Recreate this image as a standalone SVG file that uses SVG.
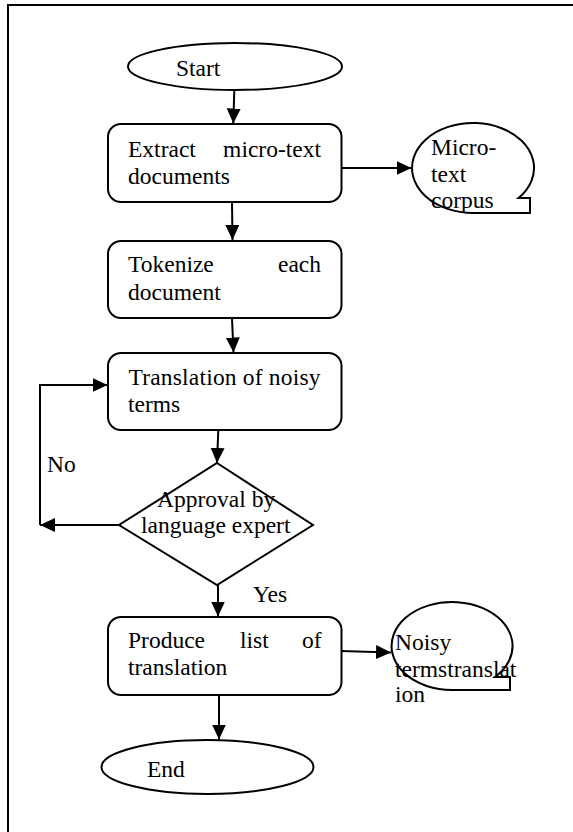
<svg xmlns="http://www.w3.org/2000/svg" width="573" height="832" viewBox="0 0 573 832">
  <style>
    .shape { fill: #ffffff; stroke: #000000; stroke-width: 2; }
    .line { fill: none; stroke: #000000; stroke-width: 2; }
    .frame { fill: none; stroke: #000000; stroke-width: 2; }
    text { font-family: "Liberation Serif", "Times New Roman", serif; font-size: 23.5px; fill: #000000; }
  </style>
  <defs>
    <marker id="arrow" markerUnits="userSpaceOnUse" markerWidth="16" markerHeight="16" viewBox="0 0 16 16" refX="15" refY="8" orient="auto">
      <path d="M0,1 L15,8 L0,15 Z" fill="#000000"/>
    </marker>
  </defs>
  <rect width="573" height="832" fill="#ffffff"/>
  <path class="frame" d="M8,832 V5 H573"/>

  <g id="connectors">
    <line class="line" x1="234.3" y1="90" x2="233.3" y2="123.5" marker-end="url(#arrow)"/>
    <line class="line" x1="232" y1="202" x2="232.5" y2="240" marker-end="url(#arrow)"/>
    <line class="line" x1="232" y1="318" x2="233.5" y2="352.5" marker-end="url(#arrow)"/>
    <line class="line" x1="218.3" y1="430" x2="217" y2="463" marker-end="url(#arrow)"/>
    <line class="line" x1="218" y1="585" x2="218" y2="616.5" marker-end="url(#arrow)"/>
    <line class="line" x1="219" y1="695" x2="219" y2="739.5" marker-end="url(#arrow)"/>
    <line class="line" x1="342" y1="168" x2="411.5" y2="168" marker-end="url(#arrow)"/>
    <line class="line" x1="341" y1="651" x2="391" y2="652.5" marker-end="url(#arrow)"/>
    <line class="line" x1="119" y1="525" x2="40" y2="525" marker-end="url(#arrow)"/>
    <polyline class="line" points="40,525 40,385 107.5,385" marker-end="url(#arrow)"/>
    <text x="47" y="472">No</text>
    <text x="253" y="602">Yes</text>
  </g>

  <g id="start">
    <ellipse class="shape" cx="235" cy="66.5" rx="107" ry="23.5"/>
    <text x="176" y="76">Start</text>
  </g>

  <g id="extract">
    <rect class="shape" x="108" y="124" width="233.5" height="78" rx="13"/>
    <text y="157"><tspan x="128">Extract</tspan><tspan x="321" text-anchor="end">micro-text</tspan></text>
    <text x="128" y="184">documents</text>
  </g>

  <g id="corpus">
    <path class="shape" d="M518.5,198 H530 V213 H473 A61,45 0 1 1 518.5,198 Z"/>
    <text x="431" y="155">Micro-</text>
    <text x="431" y="182">text</text>
    <text x="431" y="208">corpus</text>
  </g>

  <g id="tokenize">
    <rect class="shape" x="108" y="241" width="233.5" height="77" rx="13"/>
    <text y="272"><tspan x="128">Tokenize</tspan><tspan x="321" text-anchor="end">each</tspan></text>
    <text x="128" y="300">document</text>
  </g>

  <g id="translate">
    <rect class="shape" x="108" y="353" width="233.5" height="77" rx="13"/>
    <text x="128.5" y="385" textLength="192" lengthAdjust="spacing">Translation of noisy</text>
    <text x="128" y="412">terms</text>
  </g>

  <g id="approval">
    <polygon class="shape" points="217,463 313,525 217,585 119,525"/>
    <text x="157" y="507">Approval by</text>
    <text x="141" y="533">language expert</text>
  </g>

  <g id="produce">
    <rect class="shape" x="108" y="617" width="233.5" height="78" rx="13"/>
    <text y="648"><tspan x="128">Produce</tspan><tspan x="240">list</tspan><tspan x="321.5" text-anchor="end">of</tspan></text>
    <text x="128" y="675">translation</text>
  </g>

  <g id="noisy">
    <path class="shape" d="M495,677 H510 V690 H452 A60.5,44 0 1 1 495,677 Z"/>
    <text x="395" y="650">Noisy</text>
    <text x="395" y="677">termstranslat</text>
    <text x="395" y="702">ion</text>
  </g>

  <g id="end">
    <ellipse class="shape" cx="207.5" cy="767" rx="106" ry="27"/>
    <text x="147" y="777">End</text>
  </g>
</svg>
